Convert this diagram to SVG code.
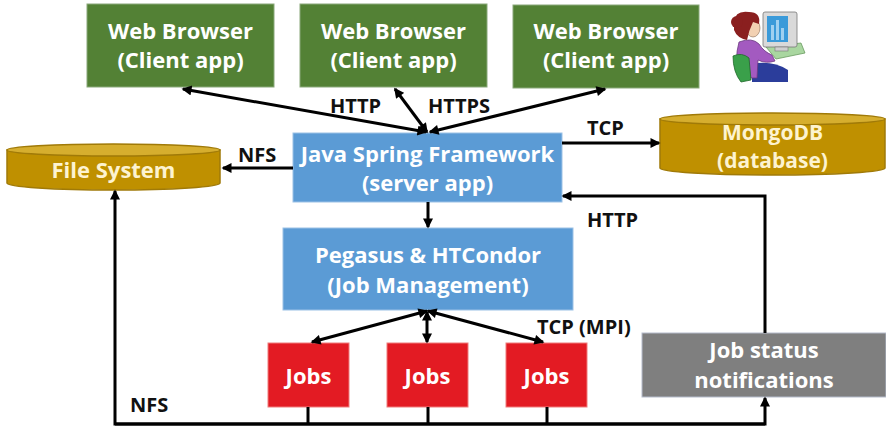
<svg xmlns="http://www.w3.org/2000/svg" width="886" height="427" viewBox="0 0 886 427">
  <style>
    .box-text { font-family: "Open Sans", "Liberation Sans", sans-serif; font-weight: 700; font-size: 22px; fill: #ffffff; text-anchor: middle; }
    .cyl-text { font-family: "Open Sans", "Liberation Sans", sans-serif; font-weight: 700; font-size: 21px; fill: #fdf3d0; text-anchor: middle; }
    .label { font-family: "Open Sans", "Liberation Sans", sans-serif; font-weight: 700; font-size: 20px; fill: #111111; }
    .green { fill: #538135; stroke: #8aa87a; stroke-width: 1; }
    .blue { fill: #5b9bd5; stroke: #9cc1e6; stroke-width: 1; }
    .red { fill: #e31b23; stroke: #ef7c7c; stroke-width: 1; }
    .grey { fill: #7f7f7f; stroke: #b5bccc; stroke-width: 1; }
    .cyl-body { fill: #bf9000; stroke: #a07a08; stroke-width: 1.5; }
    .cyl-top { fill: #d6ae2e; stroke: #a07a08; stroke-width: 1.5; }
    .wire { fill: none; stroke: #000000; stroke-width: 3; }
  </style>
  <defs>
    <marker id="head" viewBox="0 0 10 10" refX="8.5" refY="5" markerUnits="userSpaceOnUse" markerWidth="11" markerHeight="10" orient="auto-start-reverse">
      <path d="M0,0 L10,5 L0,10 z" fill="#000000"/>
    </marker>
  </defs>

  <!-- client browsers -->
  <g id="browser1">
    <rect class="green" x="87" y="4" width="187" height="83"/>
    <text class="box-text" x="180.5" y="39">Web Browser</text>
    <text class="box-text" x="180.5" y="68">(Client app)</text>
  </g>
  <g id="browser2">
    <rect class="green" x="300" y="4" width="187" height="83"/>
    <text class="box-text" x="393.5" y="39">Web Browser</text>
    <text class="box-text" x="393.5" y="68">(Client app)</text>
  </g>
  <g id="browser3">
    <rect class="green" x="513" y="5" width="186" height="83"/>
    <text class="box-text" x="606" y="39">Web Browser</text>
    <text class="box-text" x="606" y="68">(Client app)</text>
  </g>

  <!-- user at a workstation -->
  <g id="user">
    <!-- desk and keyboard -->
    <path d="M766,47 L801,43 L805,53 L776,59 Z" fill="#a9d6a0" stroke="#6a9a60" stroke-width="0.8"/>
    <!-- monitor -->
    <rect x="763" y="12" width="34" height="35" rx="2" fill="#d9d9d9" stroke="#777" stroke-width="0.8"/>
    <rect x="767" y="16" width="21" height="26" fill="#3a9ad9"/>
    <rect x="771" y="25" width="3" height="15" fill="#9fd0f0"/>
    <rect x="776" y="20" width="3" height="20" fill="#9fd0f0"/>
    <rect x="781" y="28" width="3" height="12" fill="#9fd0f0"/>
    <rect x="775" y="47" width="13" height="4" fill="#cfcfcf" stroke="#777" stroke-width="0.6"/>
    <!-- legs -->
    <path d="M752,64 Q772,60 788,70 L788,82 L752,82 Z" fill="#2b3d9b"/>
    <!-- body and arm -->
    <path d="M739,42 Q752,37 759,44 Q764,52 772,55 L775,61 Q766,64 758,60 L757,78 L739,78 Q734,60 739,42 Z" fill="#a35ac0" stroke="#6b3a80" stroke-width="0.8"/>
    <!-- chair -->
    <path d="M733,56 Q742,52 749,58 L751,80 L741,82 Q733,72 733,56 Z" fill="#3aa04a" stroke="#1f6a2a" stroke-width="0.8"/>
    <!-- head -->
    <ellipse cx="753" cy="28" rx="7" ry="9" fill="#f2d1b3" stroke="#8a6a50" stroke-width="0.6"/>
    <path d="M734,22 Q735,10 749,12 Q761,12 759,24 L753,22 Q749,30 747,40 Q737,38 734,30 Z" fill="#8a1f1f"/>
    <circle cx="737" cy="22" r="6" fill="#8a1f1f"/>
  </g>

  <!-- server -->
  <g id="server">
    <rect class="blue" x="293" y="133" width="269" height="69"/>
    <text class="box-text" x="427.5" y="162">Java Spring Framework</text>
    <text class="box-text" x="427.5" y="191">(server app)</text>
  </g>

  <!-- storage -->
  <g id="filesystem">
    <path class="cyl-body" d="M7,150 L7,183 A106.5,7 0 0 0 220,183 L220,150 Z"/>
    <ellipse class="cyl-top" cx="113.5" cy="150" rx="106.5" ry="6"/>
    <text class="cyl-text" x="113.5" y="178" style="font-size:22px">File System</text>
  </g>
  <g id="mongodb">
    <path class="cyl-body" d="M660,119 L660,168 A112.5,7 0 0 0 885,168 L885,119 Z"/>
    <ellipse class="cyl-top" cx="772.5" cy="119" rx="112.5" ry="6"/>
    <text class="cyl-text" x="772.5" y="140">MongoDB</text>
    <text class="cyl-text" x="772.5" y="168">(database)</text>
  </g>

  <!-- job management -->
  <g id="jobmanager">
    <rect class="blue" x="283" y="228" width="290" height="82"/>
    <text class="box-text" x="428" y="263">Pegasus &amp; HTCondor</text>
    <text class="box-text" x="428" y="293">(Job Management)</text>
  </g>

  <g id="job1">
    <rect class="red" x="268" y="343" width="81" height="64"/>
    <text class="box-text" x="308.5" y="384">Jobs</text>
  </g>
  <g id="job2">
    <rect class="red" x="387" y="343" width="81" height="64"/>
    <text class="box-text" x="427.5" y="384">Jobs</text>
  </g>
  <g id="job3">
    <rect class="red" x="506" y="343" width="81" height="64"/>
    <text class="box-text" x="546.5" y="384">Jobs</text>
  </g>

  <g id="status">
    <rect class="grey" x="642" y="333" width="244" height="64"/>
    <text class="box-text" x="764" y="358">Job status</text>
    <text class="box-text" x="764" y="388">notifications</text>
  </g>

  <!-- connectors -->
  <g id="connectors">
    <line class="wire" x1="183" y1="89" x2="426" y2="132" marker-start="url(#head)" marker-end="url(#head)"/>
    <line class="wire" x1="395" y1="89" x2="427" y2="132" marker-start="url(#head)" marker-end="url(#head)"/>
    <line class="wire" x1="605" y1="89" x2="430" y2="132" marker-start="url(#head)" marker-end="url(#head)"/>
    <line class="wire" x1="293" y1="168" x2="223" y2="168" marker-end="url(#head)"/>
    <line class="wire" x1="562" y1="143" x2="659" y2="143" marker-end="url(#head)"/>
    <line class="wire" x1="428" y1="202" x2="428" y2="227" marker-end="url(#head)"/>
    <path class="wire" d="M765,333 V196 H563" marker-end="url(#head)"/>
    <line class="wire" x1="427" y1="311" x2="312" y2="342" marker-start="url(#head)" marker-end="url(#head)"/>
    <line class="wire" x1="427" y1="312" x2="427" y2="342" marker-start="url(#head)" marker-end="url(#head)"/>
    <line class="wire" x1="428" y1="311" x2="543" y2="342" marker-start="url(#head)" marker-end="url(#head)"/>
    <path class="wire" d="M765,424 H115 V191" marker-end="url(#head)"/>
    <path class="wire" d="M115,424 H765 V398" marker-end="url(#head)"/>
    <line class="wire" x1="308" y1="407" x2="308" y2="424"/>
    <line class="wire" x1="428" y1="407" x2="428" y2="424"/>
    <line class="wire" x1="547" y1="407" x2="547" y2="424"/>
  </g>

  <!-- protocol labels -->
  <g id="labels">
    <text class="label" x="330" y="113">HTTP</text>
    <text class="label" x="428" y="113">HTTPS</text>
    <text class="label" x="238" y="162">NFS</text>
    <text class="label" x="587" y="135">TCP</text>
    <text class="label" x="587" y="227">HTTP</text>
    <text class="label" x="537" y="334">TCP (MPI)</text>
    <text class="label" x="130" y="412">NFS</text>
  </g>
</svg>
